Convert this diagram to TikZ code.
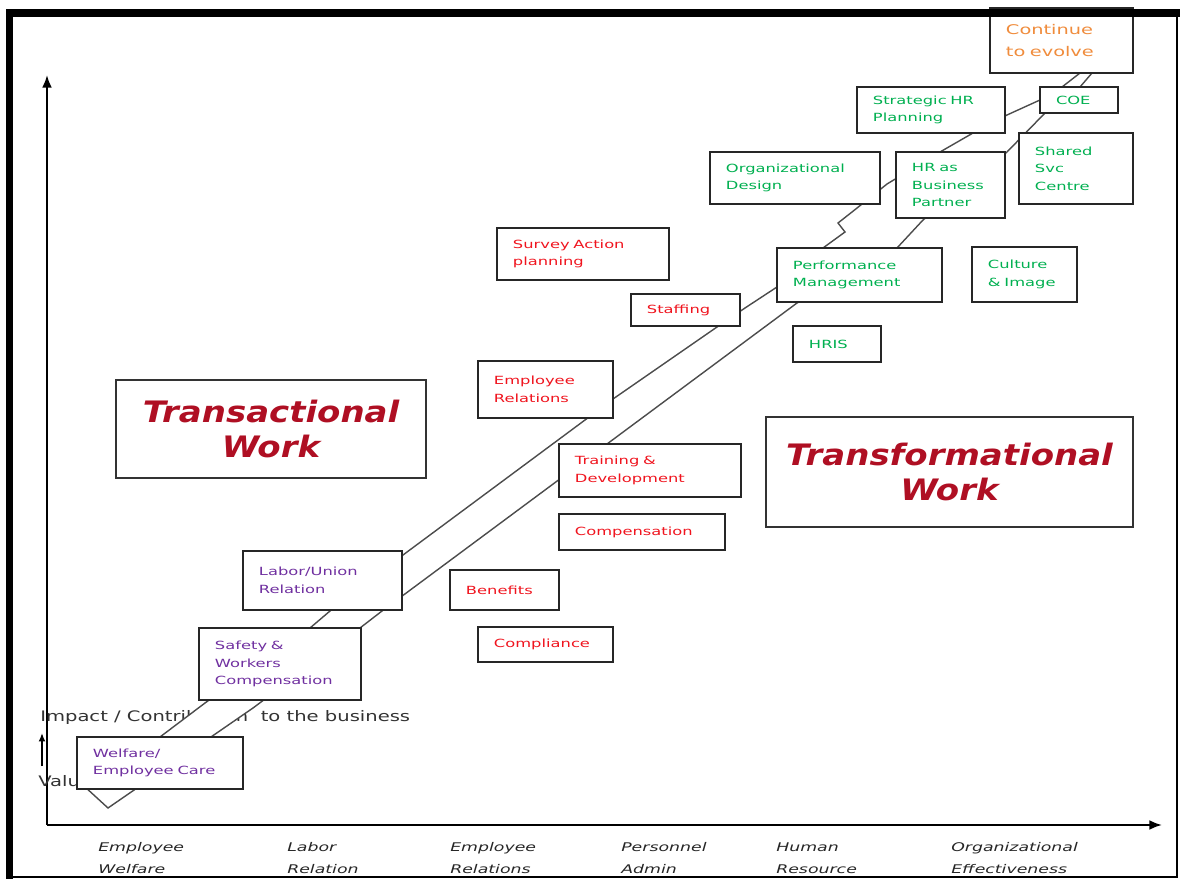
\documentclass[tikz,border=0pt]{standalone}
\usepackage{fontspec}
\usetikzlibrary{arrows.meta}
\newfontfamily\boxfont[FakeStretch=1.45]{DejaVu Sans}
\newfontfamily\notefont[FakeStretch=1.35]{DejaVu Sans}
\newfontfamily\axisfont[FakeStretch=1.45]{DejaVu Sans Oblique}
\newfontfamily\bigfont[FakeStretch=1.15]{DejaVu Sans Bold Oblique}
\definecolor{hrpurple}{RGB}{112,48,160}
\definecolor{hrred}{RGB}{240,20,30}
\definecolor{hrgreen}{RGB}{0,176,80}
\definecolor{hrorange}{RGB}{240,140,60}
\definecolor{hrdark}{RGB}{175,15,35}
\begin{document}
\begin{tikzpicture}[x=0.025cm, y=-0.025cm,
  hrbox/.style={draw=black!85, line width=1.3pt, fill=white, align=left, inner xsep=0.4cm, inner ysep=2pt, font=\boxfont\fontsize{8}{12.5}\selectfont},
  workbox/.style={draw=black!80, line width=1.3pt, fill=white, align=center, text=hrdark, font=\bigfont\fontsize{21}{25}\selectfont},
  axislabel/.style={anchor=west, align=left, inner sep=0pt, text=black!85, font=\axisfont\fontsize{8.5}{15.5}\selectfont},
  note/.style={anchor=base west, inner sep=0pt, text=black!80, font=\notefont\fontsize{10.3}{12}\selectfont},
  axisline/.style={line width=1.4pt, -{Latex[length=9pt, width=7pt]}}]
\useasboundingbox (0,0) rectangle (1180,879);
\coordinate (o) at (47,825);
\coordinate (ytop) at (47,75);
\coordinate (xend) at (1162,825);
\draw[axisline] (o) -- (ytop);
\draw[axisline] (o) -- (xend);
\node[note] (impact) at (40,721) {Impact / Contribution\ \ to the business};
\node[note] (value) at (38,786) {Value};
\coordinate (up0) at (42,766);
\coordinate (up1) at (42,733);
\draw[line width=1.4pt, -{Latex[length=6pt, width=5pt]}] (up0) -- (up1);
\filldraw[fill=white, draw=black!70, line width=1pt]
  (84,786) -- (160,737) -- (205,703) -- (310,628) -- (330,611) -- (403,555)
  -- (585,420) -- (613,399) -- (717,327) -- (745,308) -- (777,287) -- (823,248)
  -- (845,232) -- (838,223) -- (852,212) -- (887,184) -- (940,152) -- (973,133)
  -- (1007,115) -- (1040,100) -- (1062,87) -- (1080,73)
  -- (1092,73) -- (1080,87) -- (1045,113) -- (1007,152) -- (923,220) -- (897,248)
  -- (797,303) -- (382,611)
  -- (360,628) -- (253,708) -- (137,788) -- (108,808) -- cycle;
\node[hrbox, text=hrpurple, text width=3.35cm, minimum height=1.3cm] (welfare) at (160,763) {Welfare/\\Employee Care};
\node[hrbox, text=hrpurple, text width=3.25cm, minimum height=1.8cm] (safety) at (280,664) {Safety \&\\Workers\\Compensation};
\node[hrbox, text=hrpurple, text width=3.175cm, minimum height=1.475cm] (labor) at (322.5,580.5) {Labor/Union\\Relation};
\node[hrbox, text=hrred, text width=1.925cm, minimum height=1cm] (benefits) at (504.5,590) {Benefits};
\node[hrbox, text=hrred, text width=2.575cm, minimum height=0.875cm] (compliance) at (545.5,644.5) {Compliance};
\node[hrbox, text=hrred, text width=3.35cm, minimum height=0.9cm] (compensation) at (642,532) {Compensation};
\node[hrbox, text=hrred, text width=3.75cm, minimum height=1.325cm] (training) at (650,470.5) {Training \&\\Development};
\node[hrbox, text=hrred, text width=2.575cm, minimum height=1.425cm] (emprel) at (545.5,389.5) {Employee\\Relations};
\node[hrbox, text=hrred, text width=1.925cm, minimum height=0.8cm] (staffing) at (685.5,310) {Staffing};
\node[hrbox, text=hrred, text width=3.5cm, minimum height=1.3cm] (survey) at (583,254) {Survey Action\\planning};
\node[hrbox, text=hrgreen, text width=1.4cm, minimum height=0.9cm] (hris) at (837,344) {HRIS};
\node[hrbox, text=hrgreen, text width=3.325cm, minimum height=1.35cm] (perf) at (859.5,275) {Performance\\Management};
\node[hrbox, text=hrgreen, text width=1.825cm, minimum height=1.375cm] (culture) at (1024.5,274.5) {Culture\\\& Image};
\node[hrbox, text=hrgreen, text width=3.45cm, minimum height=1.3cm] (orgdesign) at (795,178) {Organizational\\Design};
\node[hrbox, text=hrgreen, text width=1.925cm, minimum height=1.65cm] (hrbp) at (950.5,185) {HR as\\Business\\Partner};
\node[hrbox, text=hrgreen, text width=2.05cm, minimum height=1.775cm] (shared) at (1076,168.5) {Shared\\Svc\\Centre};
\node[hrbox, text=hrgreen, text width=2.9cm, minimum height=1.15cm] (strategic) at (931,110) {Strategic HR\\Planning};
\node[hrbox, text=hrgreen, text width=1.15cm, minimum height=0.65cm] (coe) at (1079,100) {COE};
\node[hrbox, text=hrorange, text width=2.775cm, minimum height=1.625cm, font=\boxfont\fontsize{9.5}{16}\selectfont] (evolve) at (1061.5,40.5) {Continue\\to evolve};
\node[workbox, minimum width=7.75cm, minimum height=2.45cm] (transactional) at (271,429) {Transactional\\Work};
\node[workbox, minimum width=9.175cm, minimum height=2.75cm] (transformational) at (949.5,472) {Transformational\\Work};
\node[axislabel] (lab1) at (98,858) {Employee\\Welfare};
\node[axislabel] (lab2) at (287,858) {Labor\\Relation};
\node[axislabel] (lab3) at (450,858) {Employee\\Relations};
\node[axislabel] (lab4) at (621,858) {Personnel\\Admin};
\node[axislabel] (lab5) at (776,858) {Human\\Resource};
\node[axislabel] (lab6) at (951,858) {Organizational\\Effectiveness};
\draw[line width=5pt] (9.5,879) -- (9.5,13) -- (1180,13);
\draw[line width=2pt] (1177,13) -- (1177,877) -- (9.5,877);
\end{tikzpicture}
\end{document}
